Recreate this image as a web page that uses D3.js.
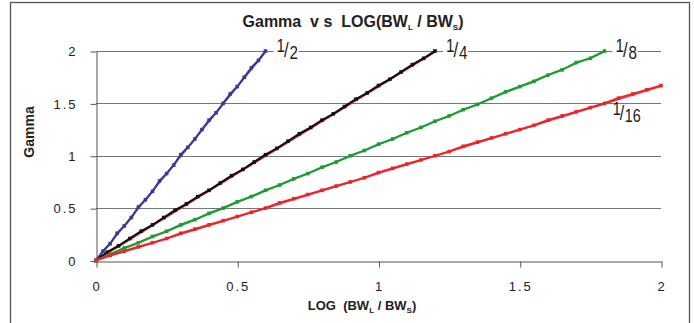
<!DOCTYPE html>
<html>
<head>
<meta charset="utf-8">
<script src="https://cdn.jsdelivr.net/npm/d3@7"></script>
<style>
  body { margin: 0; background: #fff; }
  svg { display: block; font-family: "Liberation Sans", Arial, sans-serif; }
  text { white-space: pre; }
</style>
</head>
<body>
<svg id="chart" width="694" height="323"></svg>
<script>
// tick values
const xTicks = [0, 0.5, 1, 1.5, 2];
const yTicks = [0, 0.5, 1, 1.5, 2];

// measured series (x = LOG(BWL/BWS), gamma)
const xHalf = [0, 0.025, 0.05, 0.075, 0.1, 0.125, 0.15, 0.175, 0.2, 0.225, 0.25, 0.275, 0.3,
  0.325, 0.35, 0.375, 0.4, 0.425, 0.45, 0.475, 0.5, 0.525, 0.55, 0.575, 0.6];
const gHalf = [0, 0.09, 0.16, 0.26, 0.33, 0.41, 0.51, 0.58, 0.66, 0.76, 0.83, 0.91, 1.01,
  1.08, 1.16, 1.25, 1.34, 1.41, 1.50, 1.59, 1.66, 1.75, 1.84, 1.91, 2.00];

const xQuarter = [0, 0.04, 0.08, 0.12, 0.16, 0.2, 0.24, 0.28, 0.32, 0.36, 0.4, 0.44, 0.48, 0.52,
  0.56, 0.6, 0.64, 0.68, 0.72, 0.76, 0.8, 0.84, 0.88, 0.92, 0.96, 1.0, 1.04, 1.08, 1.12, 1.16, 1.2];
const gQuarter = [0, 0.08, 0.14, 0.21, 0.28, 0.34, 0.41, 0.48, 0.54, 0.61, 0.67, 0.74, 0.81, 0.87,
  0.94, 1.01, 1.07, 1.14, 1.21, 1.27, 1.34, 1.40, 1.47, 1.54, 1.60, 1.67, 1.73, 1.80, 1.87, 1.93, 2.00];

const xEighth = [0, 0.05, 0.1, 0.15, 0.2, 0.25, 0.3, 0.35, 0.4, 0.45, 0.5, 0.55, 0.6, 0.65, 0.7,
  0.75, 0.8, 0.85, 0.9, 0.95, 1.0, 1.05, 1.1, 1.15, 1.2, 1.25, 1.3, 1.35, 1.4, 1.45, 1.5, 1.55,
  1.6, 1.65, 1.7, 1.75, 1.8];
const gEighth = [0, 0.06, 0.12, 0.17, 0.23, 0.28, 0.34, 0.39, 0.45, 0.50, 0.56, 0.61, 0.67, 0.72, 0.78,
  0.83, 0.89, 0.94, 1.00, 1.05, 1.11, 1.16, 1.22, 1.27, 1.33, 1.38, 1.44, 1.49, 1.55, 1.61, 1.66, 1.71,
  1.77, 1.82, 1.89, 1.93, 2.00];

const xSixteenth = [0, 0.05, 0.1, 0.15, 0.2, 0.25, 0.3, 0.35, 0.4, 0.45, 0.5, 0.55, 0.6, 0.65, 0.7,
  0.75, 0.8, 0.85, 0.9, 0.95, 1.0, 1.05, 1.1, 1.15, 1.2, 1.25, 1.3, 1.35, 1.4, 1.45, 1.5, 1.55, 1.6,
  1.65, 1.7, 1.75, 1.8, 1.85, 1.9, 1.95, 2.0];
const gSixteenth = [0, 0.05, 0.09, 0.13, 0.17, 0.21, 0.26, 0.30, 0.34, 0.38, 0.42, 0.46, 0.50, 0.55, 0.59,
  0.63, 0.67, 0.71, 0.75, 0.79, 0.84, 0.88, 0.92, 0.96, 1.00, 1.04, 1.09, 1.13, 1.17, 1.21, 1.25, 1.29, 1.34,
  1.38, 1.42, 1.46, 1.50, 1.55, 1.59, 1.63, 1.67];

// theoretical straight lines: [x, gamma] endpoints
const theoryHalf = [[0, 0], [0.6, 1.99]];
const theoryQuarter = [[0, 0], [1.2, 1.99]];
const theoryEighth = [[0, 0], [1.8, 1.99]];
const theorySixteenth = [[0, 0], [2.0, 1.66]];

const seriesLabels = [["1", "2"], ["1", "4"], ["1", "8"], ["1", "16"]];

const series = [
  { x: xHalf, g: gHalf, theory: theoryHalf, color: "#3d3898", theoryColor: "#5d58b8", label: seriesLabels[0] },
  { x: xQuarter, g: gQuarter, theory: theoryQuarter, color: "#111111", theoryColor: "#ff3030", label: seriesLabels[1] },
  { x: xEighth, g: gEighth, theory: theoryEighth, color: "#1f9a35", theoryColor: "#6ccc5c", label: seriesLabels[2] },
  { x: xSixteenth, g: gSixteenth, theory: theorySixteenth, color: "#ee2424", theoryColor: "#cc66aa", label: seriesLabels[3] }
];

const svg = d3.select("#chart");

// outer frame
svg.append("rect")
  .attr("x", 10.5).attr("y", 2.5)
  .attr("width", 679).attr("height", 340)
  .attr("fill", "none").attr("stroke", "#555").attr("stroke-width", 1.3);

const x = d3.scaleLinear().domain([0, 2]).range([96, 661]);
const y = d3.scaleLinear().domain([0, 2]).range([260.5, 51]);

// gridlines
svg.append("g")
  .selectAll("line")
  .data(yTicks.filter(d => d > 0))
  .enter()
  .append("line")
  .attr("x1", x(0)).attr("x2", x(2))
  .attr("y1", d => Math.round(y(d)) + 0.5).attr("y2", d => Math.round(y(d)) + 0.5)
  .attr("stroke", "#777").attr("stroke-width", 1);

const fmt = d => d3.format("~g")(d);

const yAxis = svg.append("g")
  .attr("transform", `translate(${x(0) + 0.5},0.5)`)
  .call(d3.axisLeft(y).tickValues(yTicks).tickSize(6).tickSizeOuter(0).tickPadding(13).tickFormat(fmt));

const xAxis = svg.append("g")
  .attr("transform", `translate(0.5,${Math.round(y(0)) + 0.5})`)
  .call(d3.axisBottom(x).tickValues(xTicks).tickSize(6).tickSizeOuter(0).tickPadding(14).tickFormat(fmt));

[yAxis, xAxis].forEach(a => {
  a.select(".domain").attr("stroke", "#555");
  a.selectAll(".tick line").attr("stroke", "#555");
  a.selectAll(".tick text")
    .attr("fill", "#222")
    .style("font-size", "13px")
    .style("letter-spacing", "2px")
    .style("font-family", "'Liberation Sans', Arial, sans-serif");
});

// series
const line = d3.line().x(d => x(d[0])).y(d => y(d[1]));

series.forEach(s => {
  svg.append("path")
    .attr("d", line(s.theory))
    .attr("fill", "none")
    .attr("stroke", s.theoryColor)
    .attr("stroke-width", 1.5);

  const pts = s.x.map((v, i) => [v, s.g[i]]);
  svg.append("path")
    .attr("d", line(pts))
    .attr("fill", "none")
    .attr("stroke", s.color)
    .attr("stroke-width", 2.2);

  svg.append("g")
    .selectAll("rect")
    .data(pts)
    .enter()
    .append("rect")
    .attr("x", d => x(d[0]) - 1.8)
    .attr("y", d => y(d[1]) - 1.8)
    .attr("width", 3.6).attr("height", 3.6)
    .attr("fill", s.color);
});

// fraction labels
function fraction(px, py, num, den, size, bg) {
  const g = svg.append("g").attr("transform", `translate(${px},${py})`);
  if (bg) {
    g.append("rect").attr("x", -3).attr("y", -15).attr("width", 25 + (den.length - 1) * 8)
      .attr("height", 24).attr("fill", "#fff");
  }
  const t = g.append("g").attr("transform", "scale(0.8,1)")
    .style("font-size", size + "px").attr("fill", "#222");
  t.append("text").attr("x", 0).attr("y", 0).text(num);
  t.append("text").attr("x", size * 0.5).attr("y", 5).style("font-size", (size + 2) + "px").text("/");
  t.append("text").attr("x", size * 0.85).attr("y", 7).text(den);
}

series.slice(0, 3).forEach(s => {
  const last = s.x.length - 1;
  fraction(x(s.x[last]) + 11, Math.round(y(s.g[last])) + 1, s.label[0], s.label[1], 19, true);
});
{
  const s = series[3];
  const i = 37;
  fraction(x(s.x[i]) - 6, y(s.g[i]) + 17, s.label[0], s.label[1], 18, false);
}

// title
const title = svg.append("text")
  .attr("x", 353).attr("y", 27)
  .attr("text-anchor", "middle")
  .style("font-size", "16px").style("font-weight", "bold").attr("fill", "#222");
title.append("tspan").text("Gamma  v s  LOG(BW");
title.append("tspan").attr("dy", 3).style("font-size", "8px").text("L");
title.append("tspan").attr("dy", -3).text(" / BW");
title.append("tspan").attr("dy", 3).style("font-size", "8px").text("S");
title.append("tspan").attr("dy", -3).text(")");

// axis titles
const xt = svg.append("text")
  .attr("x", 362).attr("y", 310)
  .attr("text-anchor", "middle")
  .style("font-size", "13px").style("font-weight", "bold").attr("fill", "#222");
xt.append("tspan").text("LOG  (BW");
xt.append("tspan").attr("dy", 3).style("font-size", "8px").text("L");
xt.append("tspan").attr("dy", -3).text(" / BW");
xt.append("tspan").attr("dy", 3).style("font-size", "8px").text("S");
xt.append("tspan").attr("dy", -3).text(")");

svg.append("text")
  .attr("transform", "translate(34,132) rotate(-90)")
  .attr("text-anchor", "middle")
  .style("font-size", "14px").style("font-weight", "bold").attr("fill", "#222")
  .text("Gamma");
</script>
</body>
</html>
